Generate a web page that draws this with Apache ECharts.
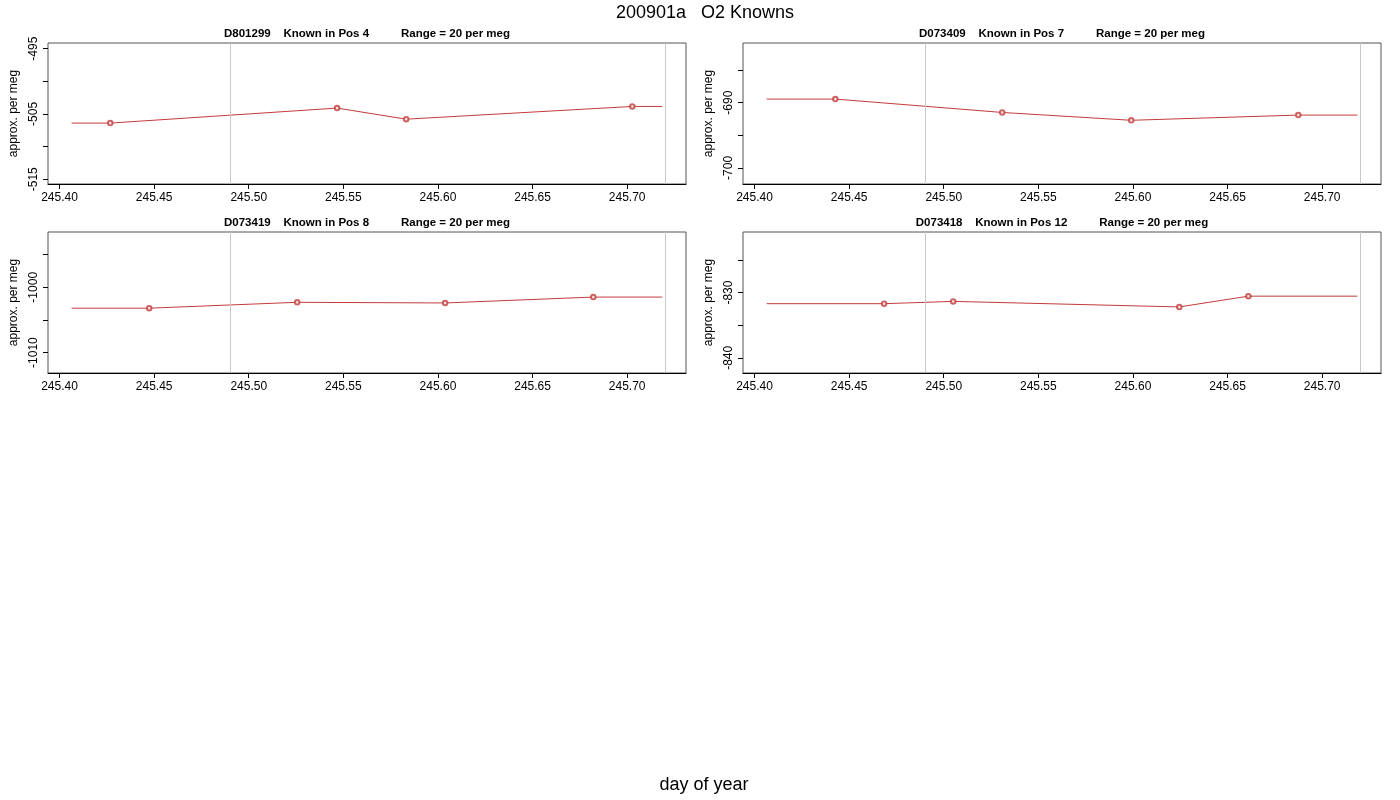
<!DOCTYPE html>
<html>
<head>
<meta charset="utf-8">
<title>200901a O2 Knowns</title>
<script src="https://cdn.jsdelivr.net/npm/echarts@6/dist/echarts.min.js"></script>
<style>
  html, body { margin: 0; padding: 0; background: #fff; }
  #chart { width: 1400px; height: 800px; }
</style>
</head>
<body>
<div id="chart"></div>
<script>
// shared x axis (day of year): axis range, extent of the drawn line, grey reference lines
const xAxisRange = [245.3939, 245.7311];
const lineExtent = [245.4064, 245.7186];
const refDays = [245.4855, 245.7197];
const xTicks = [245.40, 245.45, 245.50, 245.55, 245.60, 245.65, 245.70];

// panel titles
const panelTitles = [
    'D801299    Known in Pos 4          Range = 20 per meg',
    'D073409    Known in Pos 7          Range = 20 per meg',
    'D073419    Known in Pos 8          Range = 20 per meg',
    'D073418    Known in Pos 12          Range = 20 per meg'
];

// measurement days and values per panel
const pos4Days = [245.4268, 245.5467, 245.5832, 245.7027];
const pos4Vals = [-506.4, -504.1, -505.8, -503.85];
const pos7Days = [245.4427, 245.5309, 245.5991, 245.6874];
const pos7Vals = [-689.45, -691.5, -692.7, -691.9];
const pos8Days = [245.4474, 245.5256, 245.6038, 245.6821];
const pos8Vals = [-1003.2, -1002.3, -1002.4, -1001.5];
const pos12Days = [245.4685, 245.5050, 245.6245, 245.6610];
const pos12Vals = [-831.7, -831.35, -832.2, -830.55];

// y ranges, tick marks and labelled ticks per panel
const yLimits = [[-515.73, -494.13], [-702.46, -680.86], [-1013.13, -991.53], [-842.32, -820.72]];
const yTicks = [
    [-515, -510, -505, -500, -495],
    [-700, -695, -690, -685],
    [-1010, -1005, -1000, -995],
    [-840, -835, -830, -825]
];
const yLabels = [[-515, -505, -495], [-700, -690], [-1010, -1000], [-840, -830]];

const dayLists = [pos4Days, pos7Days, pos8Days, pos12Days];
const valLists = [pos4Vals, pos7Vals, pos8Vals, pos12Vals];

const lineColor = '#c33b3b';
const font = 'Liberation Sans';

// panel boxes (left, top) in pixels
const boxes = [[48, 43], [743, 43], [48, 232], [743, 232]];
const boxW = 638, boxH = 141;

let grid = [], xAxis = [], yAxis = [], series = [];
let title = [
    {
        text: '200901a   O2 Knowns',
        left: 705, top: 4, textAlign: 'center', padding: 0,
        textStyle: { fontFamily: font, fontSize: 18, fontWeight: 'normal', color: '#000' }
    },
    {
        text: 'day of year',
        left: 704, top: 776, textAlign: 'center', padding: 0,
        textStyle: { fontFamily: font, fontSize: 18, fontWeight: 'normal', color: '#000' }
    }
];

boxes.forEach((box, i) => {
    grid.push({
        left: box[0], top: box[1], width: boxW, height: boxH,
        show: true, borderColor: '#555', borderWidth: 1, backgroundColor: 'transparent'
    });

    title.push({
        text: panelTitles[i],
        left: box[0] + boxW / 2, top: box[1] - 15, textAlign: 'center', padding: 0,
        textStyle: { fontFamily: font, fontSize: 11.5, fontWeight: 'bold', color: '#000' }
    });

    xAxis.push({
        type: 'value',
        gridIndex: i,
        min: xAxisRange[0],
        max: xAxisRange[1],
        splitLine: { show: false },
        axisLine: { show: true, lineStyle: { color: '#000', width: 1 } },
        axisTick: { show: true, length: 5, lineStyle: { color: '#000' }, customValues: xTicks },
        axisLabel: {
            customValues: xTicks,
            margin: 8,
            fontFamily: font, fontSize: 12, color: '#000',
            formatter: v => v.toFixed(2)
        }
    });

    yAxis.push({
        type: 'value',
        gridIndex: i,
        min: yLimits[i][0],
        max: yLimits[i][1],
        name: 'approx. per meg',
        nameLocation: 'middle',
        nameGap: 28,
        nameTextStyle: { fontFamily: font, fontSize: 12, color: '#000' },
        splitLine: { show: false },
        axisLine: { show: false },
        axisTick: { show: true, length: 5, lineStyle: { color: '#000' }, customValues: yTicks[i] },
        axisLabel: {
            customValues: yLabels[i],
            rotate: 90,
            margin: 8,
            fontFamily: font, fontSize: 12, color: '#000',
            formatter: v => String(v)
        }
    });

    let days = dayLists[i];
    let vals = valLists[i];
    // line runs flat out to both ends of the line extent
    let lineData = [[lineExtent[0], vals[0]]]
        .concat(days.map((d, k) => [d, vals[k]]))
        .concat([[lineExtent[1], vals[vals.length - 1]]]);

    series.push({
        type: 'line',
        xAxisIndex: i,
        yAxisIndex: i,
        data: lineData,
        showSymbol: false,
        silent: true,
        lineStyle: { color: lineColor, width: 1 },
        markLine: {
            silent: true,
            symbol: 'none',
            label: { show: false },
            lineStyle: { color: '#c8c8c8', width: 1, type: 'solid' },
            data: refDays.map(d => ({ xAxis: d }))
        },
        z: 2
    });

    series.push({
        type: 'scatter',
        xAxisIndex: i,
        yAxisIndex: i,
        data: days.map((d, k) => [d, vals[k]]),
        symbol: 'emptyCircle',
        symbolSize: 4.5,
        silent: true,
        itemStyle: { color: lineColor, borderWidth: 1 },
        z: 3
    });
});

let chart = echarts.init(document.getElementById('chart'), null, { renderer: 'canvas' });
chart.setOption({
    animation: false,
    backgroundColor: '#fff',
    title,
    grid,
    xAxis,
    yAxis,
    series
});
</script>
</body>
</html>
